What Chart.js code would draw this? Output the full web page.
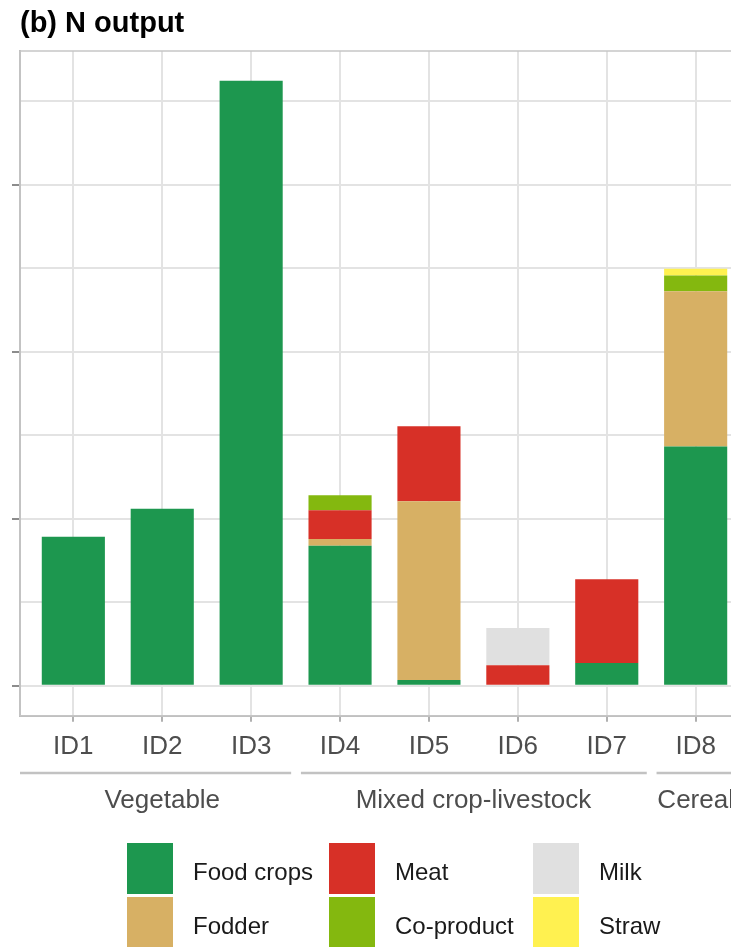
<!DOCTYPE html>
<html>
<head>
<meta charset="utf-8">
<title>N output</title>
<script src="https://cdn.jsdelivr.net/npm/chart.js@4.4.1/dist/chart.umd.min.js"></script>
<style>
html, body { margin: 0; padding: 0; background: #fff; overflow: hidden; width: 731px; height: 947px; }
#wrap { position: absolute; left: 0; top: 0; width: 760px; height: 947px; }
</style>
</head>
<body>
<div id="wrap"><canvas id="chart" width="760" height="947"></canvas></div>
<script>
// farms on the x axis
var farms = ['ID1', 'ID2', 'ID3', 'ID4', 'ID5', 'ID6', 'ID7', 'ID8'];

// N output per flow (stacked bottom to top)
var foodCrops = [44.6, 53.0, 181.1, 41.9, 1.7, 0, 6.8, 71.6];
var fodder    = [0, 0, 0, 2.0, 53.5, 0, 0, 46.5];
var meat      = [0, 0, 0, 8.6, 22.5, 6.1, 25.1, 0];
var milk      = [0, 0, 0, 0, 0, 11.2, 0, 0];
var coProduct = [0, 0, 0, 4.5, 0, 0, 0, 4.7];
var straw     = [0, 0, 0, 0, 0, 0, 0, 2.0];

// farm types, by first and last farm number
var groupNames = ['Vegetable', 'Mixed crop-livestock', 'Cereal'];
var groupFirst = [1, 4, 8];
var groupLast  = [3, 7, 8];

var yTicks = [0, 25, 50, 75, 100, 125, 150, 175];

function pts(vals) {
    return vals.map(function(v, i) { return { x: i + 1, y: v }; });
}

var series = [
    { label: 'Food crops', data: foodCrops, color: '#1d974f' },
    { label: 'Fodder',     data: fodder,    color: '#d7b064' },
    { label: 'Meat',       data: meat,      color: '#d73027' },
    { label: 'Milk',       data: milk,      color: '#e0e0e0' },
    { label: 'Co-product', data: coProduct, color: '#84b80f' },
    { label: 'Straw',      data: straw,     color: '#fff150' }
];

// legend is filled column by column
var legendOrder = ['Food crops', 'Fodder', 'Meat', 'Co-product', 'Milk', 'Straw'];

var FONT = '"Liberation Sans", Arial, sans-serif';

var decor = {
    id: 'decor',
    afterDraw: function(chart) {
        var ctx = chart.ctx;
        var area = chart.chartArea;
        var xs = chart.scales.x;
        ctx.save();

        // panel border
        ctx.strokeStyle = '#c6c6c6';
        ctx.lineWidth = 1.5;
        ctx.strokeRect(area.left, area.top, area.right - area.left, area.bottom - area.top);

        // title
        ctx.fillStyle = '#000';
        ctx.font = 'bold 29px ' + FONT;
        ctx.textAlign = 'left';
        ctx.textBaseline = 'alphabetic';
        ctx.fillText('(b) N output', 20, 32);

        // farm type brackets
        ctx.strokeStyle = '#c2c2c2';
        ctx.lineWidth = 2.5;
        ctx.fillStyle = '#4d4d4d';
        ctx.font = '26px ' + FONT;
        ctx.textAlign = 'center';
        ctx.textBaseline = 'middle';
        for (var g = 0; g < groupNames.length; g++) {
            var x0 = g === 0 ? area.left : xs.getPixelForValue(groupFirst[g] - 0.44);
            var x1 = xs.getPixelForValue(groupLast[g] + 0.45);
            ctx.beginPath();
            ctx.moveTo(x0, 773);
            ctx.lineTo(x1, 773);
            ctx.stroke();
            var cx = (xs.getPixelForValue(groupFirst[g]) + xs.getPixelForValue(groupLast[g])) / 2;
            ctx.fillText(groupNames[g], cx, 801);
        }

        // legend
        var colX = [127, 329, 533];
        var rowY = [843, 897];
        ctx.font = '24px ' + FONT;
        ctx.textAlign = 'left';
        for (var i = 0; i < legendOrder.length; i++) {
            var s = series.filter(function(d) { return d.label === legendOrder[i]; })[0];
            var c = Math.floor(i / 2), r = i % 2;
            ctx.fillStyle = s.color;
            ctx.fillRect(colX[c], rowY[r], 46, 51);
            ctx.fillStyle = '#1a1a1a';
            ctx.fillText(s.label, colX[c] + 66, rowY[r] + 30);
        }
        ctx.restore();
    }
};

new Chart(document.getElementById('chart'), {
    type: 'bar',
    data: {
        datasets: series.map(function(s) {
            return {
                label: s.label,
                data: pts(s.data),
                backgroundColor: s.color,
                borderWidth: 0,
                barPercentage: 0.71,
                categoryPercentage: 1
            };
        })
    },
    options: {
        responsive: false,
        animation: false,
        devicePixelRatio: 1,
        layout: { padding: { top: 51, left: 12, right: 11, bottom: 176 } },
        plugins: {
            legend: { display: false },
            tooltip: { enabled: false }
        },
        scales: {
            x: {
                type: 'linear',
                stacked: true,
                offset: false,
                min: 0.4,
                max: 8.6,
                afterBuildTicks: function(axis) {
                    axis.ticks = farms.map(function(f, i) { return { value: i + 1 }; });
                },
                ticks: {
                    callback: function(v) { return farms[v - 1]; },
                    color: '#4d4d4d',
                    font: { family: FONT, size: 26 },
                    padding: 9,
                    maxRotation: 0,
                    autoSkip: false
                },
                grid: { offset: false, color: '#e3e3e3', lineWidth: 2, tickColor: '#b0b0b0', tickLength: 6 },
                border: { display: true, color: '#b8b8b8', width: 2 }
            },
            y: {
                stacked: true,
                min: -9,
                max: 190,
                afterBuildTicks: function(axis) {
                    axis.ticks = yTicks.map(function(v) { return { value: v }; });
                },
                ticks: { display: false },
                grid: {
                    color: '#e3e3e3',
                    lineWidth: 2,
                    tickLength: 8,
                    tickColor: function(c) { return c.tick && c.tick.value % 50 === 0 ? '#8c8c8c' : 'rgba(0,0,0,0)'; }
                },
                border: { display: true, color: '#b8b8b8', width: 2 }
            }
        }
    },
    plugins: [decor]
});
</script>
</body>
</html>
